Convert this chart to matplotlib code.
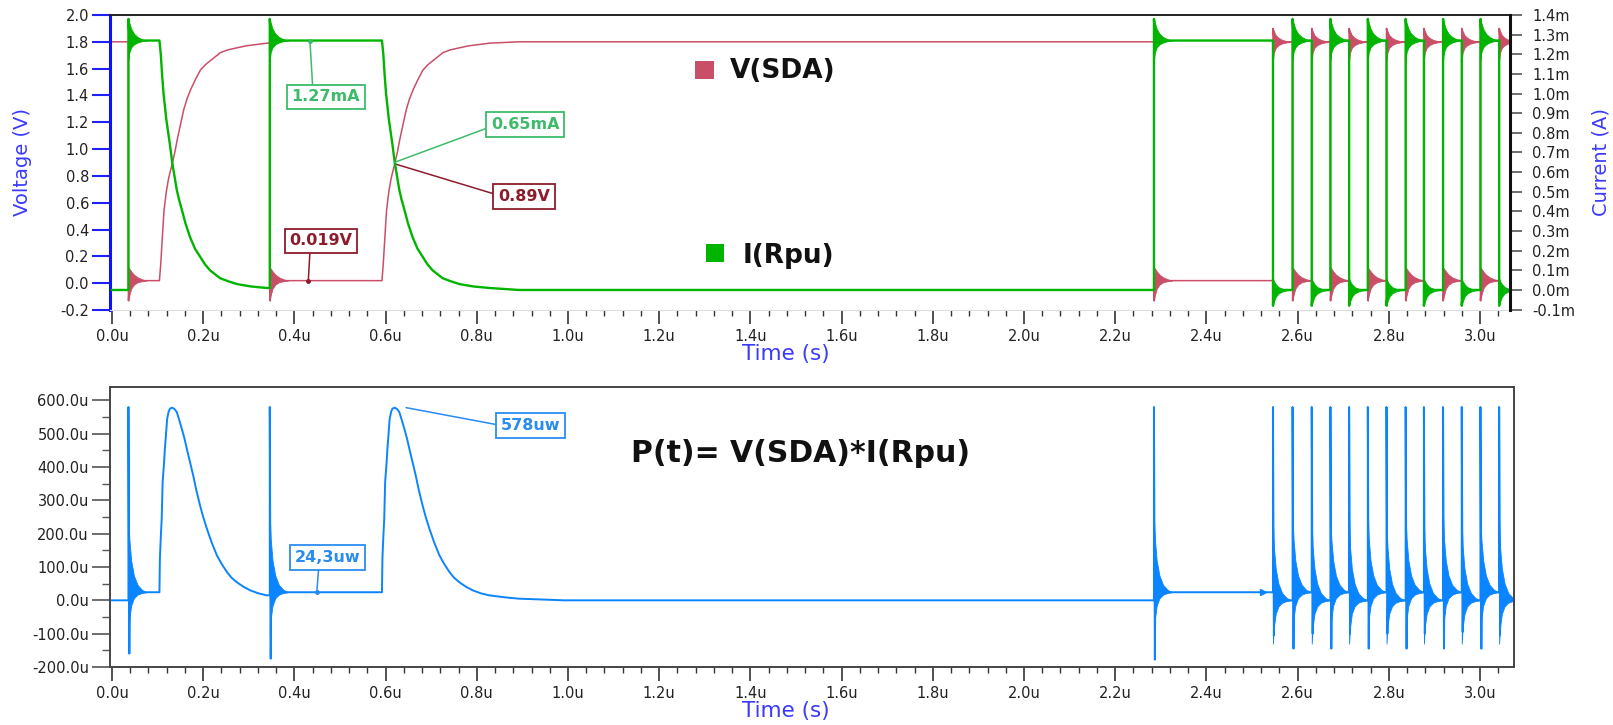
import numpy as np
import matplotlib.pyplot as plt
from matplotlib.patches import Rectangle
from matplotlib.ticker import MultipleLocator, FuncFormatter

W, H = 1613, 725

# values (time in us, V in volt, I in mA, P in uW)
V_HIGH, V_LOW = 1.80, 0.019
I_HIGH, I_LOW = 1.27, 0.0
P_ON = 24.3
T_END = 3.075

t_fall = [0.036, 0.346, 2.285]          # SDA pulled low
t_release = [0.104, 0.592]              # SDA released -> slow rise through Rpu
t_burst = [2.546, 2.589, 2.631, 2.672, 2.713, 2.754, 2.795,
           2.837, 2.877, 2.919, 2.960, 3.001, 3.042]   # fast edges, first one rising
t_glitch = 2.524

# slow rise after release (offset from release, us)
v_rc_dt = [0, 0.003, 0.006, 0.010, 0.015, 0.020, 0.028, 0.034, 0.039, 0.046, 0.053, 0.060,
           0.068, 0.079, 0.090, 0.101, 0.112, 0.123, 0.134, 0.150, 0.163, 0.190, 0.236, 0.30]
v_rc = [0.019, 0.15, 0.32, 0.54, 0.68, 0.78, 0.89, 0.98, 1.07, 1.18, 1.29, 1.37,
        1.44, 1.52, 1.59, 1.63, 1.66, 1.69, 1.72, 1.74, 1.75, 1.77, 1.79, 1.80]
i_rc_dt = [0, 0.003, 0.006, 0.009, 0.015, 0.023, 0.028, 0.033, 0.038, 0.043, 0.049, 0.057,
           0.067, 0.078, 0.089, 0.100, 0.111, 0.122, 0.133, 0.150, 0.170, 0.200, 0.236, 0.30]
i_rc = [1.27, 1.20, 1.09, 1.00, 0.87, 0.74, 0.65, 0.58, 0.51, 0.46, 0.41, 0.34,
        0.27, 0.21, 0.17, 0.13, 0.10, 0.08, 0.06, 0.045, 0.03, 0.018, 0.01, 0.0]
p_rc_dt = [0, 0.001, 0.003, 0.005, 0.007, 0.010, 0.012, 0.015, 0.017, 0.020, 0.023, 0.028,
           0.033, 0.038, 0.043, 0.049, 0.055, 0.060, 0.067, 0.074, 0.081, 0.089, 0.096,
           0.104, 0.115, 0.126, 0.137, 0.148, 0.158, 0.169, 0.184, 0.199, 0.217, 0.235,
           0.27, 0.30, 0.40]
p_rc = [24.3, 125, 190, 245, 355, 410, 455, 510, 545, 565, 575, 578,
        574, 565, 543, 515, 485, 455, 415, 375, 330, 285, 250,
        215, 172, 135, 108, 85, 68, 55, 41, 30, 21, 15,
        9, 5, 0]

# spike extremes at the fast edges
v_spike = {'fall': -0.13, 'rise': 1.90}
i_spike = {'fall': 1.38, 'rise': -0.08}
p_spike_hi = 580
p_spike_lo = [-160, -175, -178, -105, -145, -100, -145, -100, -145, -100,
              -145, -100, -145, -95, -145, -105]

# ringing envelope after a fast edge (deviation from the settled level)
ring_dt = [0, 0.002, 0.006, 0.012, 0.020, 0.030, 0.040]
v_ring = {'fall': ([0.10, 0.09, 0.07, 0.045, 0.025, 0.01, 0], [-0.15, -0.11, -0.06, -0.03, -0.012, -0.004, 0]),
          'rise': ([0.10, 0.08, 0.05, 0.03, 0.015, 0.005, 0], [-0.14, -0.08, -0.045, -0.025, -0.012, -0.004, 0])}
i_ring = {'fall': ([0.11, 0.09, 0.06, 0.035, 0.018, 0.006, 0], [-0.10, -0.06, -0.035, -0.02, -0.01, -0.003, 0]),
          'rise': ([0.06, 0.045, 0.03, 0.015, 0.007, 0.002, 0], [-0.08, -0.06, -0.035, -0.018, -0.008, -0.002, 0])}
p_ring = ([230, 160, 95, 50, 22, 7, 0], [-130, -80, -40, -18, -7, -2, 0])

RED = '#c94f68'
GREEN = '#00b400'
BLUE = '#0a84ff'
ANN_GREEN = '#3dbb6a'
ANN_RED = '#8c1c2c'
ANN_BLUE = '#2a8cf0'
LBL_BLUE = '#3a3aff'
TXT = '#222222'
PX = 0.72   # points per pixel at dpi 100

events = sorted([(t, 'fall') for t in t_fall] + [(t, 'rc') for t in t_release] +
                [(t, 'rise' if k % 2 == 0 else 'fall') for k, t in enumerate(t_burst)])
fast = [(t, k) for t, k in events if k != 'rc']


def build(start, settled, spike_pts, rc_dt, rc_val):
    t, y = [0.0], [start]
    n = 0
    for k, (te, kind) in enumerate(events):
        t_next = events[k + 1][0] if k + 1 < len(events) else T_END
        t.append(te)
        y.append(y[-1])
        if kind == 'rc':
            for d, v in zip(rc_dt, rc_val):
                if te + d < t_next:
                    t.append(te + d)
                    y.append(v)
        else:
            for d, v in spike_pts(kind, n):
                t.append(te + d)
                y.append(v)
            t.append(te + 0.003)
            y.append(settled[kind])
            n += 1
        t.append(t_next)
        y.append(y[-1])
    return np.array(t), np.array(y)


v_set = {'fall': V_LOW, 'rise': V_HIGH}
i_set = {'fall': I_HIGH, 'rise': I_LOW}
p_set = {'fall': P_ON, 'rise': 0.0}

tv, vv = build(V_HIGH, v_set, lambda k, n: [(0, v_spike[k])], v_rc_dt, v_rc)
ti, ii = build(I_LOW, i_set, lambda k, n: [(0, i_spike[k])], i_rc_dt, i_rc)
tp, pp = build(0.0, p_set, lambda k, n: [(0, p_spike_hi), (0.002, p_spike_lo[n])], p_rc_dt, p_rc)

fig = plt.figure(figsize=(W / 100, H / 100), dpi=100)
ax_v = fig.add_axes([110 / W, 1 - 310 / H, 1400 / W, 295 / H])
ax_i = ax_v.twinx()
ax_p = fig.add_axes([110 / W, 1 - 667 / H, 1404 / W, 280 / H])

rd = np.array(ring_dt)
# top: voltage and current
ax_v.plot(tv, vv, color=RED, lw=1.1)
ax_i.plot(ti, ii, color=GREEN, lw=1.7)
for te, kind in fast:
    up, dn = v_ring[kind]
    ax_v.fill_between(te + rd, v_set[kind] + np.array(up), v_set[kind] + np.array(dn),
                      color=RED, lw=0.6)
    up, dn = i_ring[kind]
    ax_i.fill_between(te + rd, i_set[kind] + np.array(up), i_set[kind] + np.array(dn),
                      color=GREEN, lw=0.6)
    ax_p.fill_between(te + rd, p_set[kind] + np.array(p_ring[0]), p_set[kind] + np.array(p_ring[1]),
                      color=BLUE, lw=0.6)
ax_p.plot(tp, pp, color=BLUE, lw=1.4)
ax_p.plot([t_glitch], [P_ON], marker='>', ms=5, color=BLUE)

fmt_u = FuncFormatter(lambda v, _: f"{v:.1f}u".replace('-0.0', '0.0'))
for ax in (ax_v, ax_p):
    ax.xaxis.set_major_locator(MultipleLocator(0.2))
    ax.xaxis.set_minor_locator(MultipleLocator(0.04))
    ax.xaxis.set_major_formatter(fmt_u)
    ax.tick_params(axis='x', which='major', length=14 * PX, width=1.2, color='#333333',
                   labelsize=10.5, labelcolor=TXT, pad=5 * PX)
    ax.tick_params(axis='x', which='minor', length=6 * PX, width=1.0, color='#333333')
    ax.set_xlabel('Time (s)', color=LBL_BLUE, fontsize=15.5, labelpad=0)

ax_v.xaxis.label.set_x((786 - 110) / 1400)
ax_p.xaxis.label.set_x((786 - 110) / 1404)

ax_v.set_xlim(-0.0044, 3.0658)
ax_p.set_xlim(-0.0044, 3.0746)

ax_v.set_ylim(-0.2, 2.0)
ax_v.yaxis.set_major_locator(MultipleLocator(0.2))
ax_v.yaxis.set_major_formatter(FuncFormatter(lambda v, _: f"{v:.1f}".replace('-0.0', '0.0')))
ax_v.tick_params(axis='y', length=18 * PX, width=1.5, color='#2020ff', labelsize=10.5,
                 labelcolor=TXT, pad=3 * PX)
ax_v.set_ylabel('Voltage (V)', color=LBL_BLUE, fontsize=14, labelpad=20)

ax_i.set_ylim(-0.102, 1.4)
ax_i.yaxis.set_major_locator(MultipleLocator(0.1))
ax_i.yaxis.set_major_formatter(FuncFormatter(lambda v, _: f"{v:.1f}m".replace('-0.0', '0.0')))
ax_i.tick_params(axis='y', length=12 * PX, width=1.2, color='#555555', labelsize=10.5,
                 labelcolor=TXT, pad=10 * PX)
ax_i.set_ylabel('Current (A)', color=LBL_BLUE, fontsize=14, labelpad=12)

ax_p.set_ylim(-200, 640)
ax_p.yaxis.set_major_locator(MultipleLocator(100))
ax_p.yaxis.set_minor_locator(MultipleLocator(50))
ax_p.yaxis.set_major_formatter(fmt_u)
ax_p.tick_params(axis='y', which='major', length=18 * PX, width=1.2, color='#555555',
                 labelsize=10.5, labelcolor=TXT, pad=3 * PX)
ax_p.tick_params(axis='y', which='minor', length=8 * PX, width=1.0, color='#555555')

# frames
ax_v.spines['left'].set_color('#1010ff')
ax_v.spines['left'].set_linewidth(2.2)
ax_v.spines['top'].set_color('#222222')
ax_v.spines['top'].set_linewidth(1.4)
ax_v.spines['bottom'].set_color('#dddddd')
for s in ('left', 'top', 'bottom'):
    ax_i.spines[s].set_visible(False)
ax_i.spines['right'].set_color('#111111')
ax_i.spines['right'].set_linewidth(2.2)
ax_v.spines['right'].set_visible(False)
for s in ax_p.spines.values():
    s.set_color('#444444')
    s.set_linewidth(1.4)


def ann(ax, text, xy, xytext, color, rel, dot=True):
    ax.annotate(text, xy=xy, xytext=xytext, textcoords='data', ha='center', va='center',
                fontsize=11.5, fontweight='bold', color=color,
                bbox=dict(boxstyle='square,pad=0.3', fc='white', ec=color, lw=1.3),
                arrowprops=dict(arrowstyle='-', color=color, lw=1.1, relpos=rel,
                                shrinkA=0, shrinkB=0))
    if dot:
        ax.plot([xy[0]], [xy[1]], 'o', ms=2.5, color=color)


ann(ax_i, '1.27mA', (0.434, 1.27), (0.469, 0.983), ANN_GREEN, (0.31, 1.0))
ann(ax_v, '0.019V', (0.4305, 0.019), (0.458, 0.315), ANN_RED, (0.33, 0.0))
ann(ax_i, '0.65mA', (0.62, 0.65), (0.906, 0.843), ANN_GREEN, (0.02, 0.38), dot=False)
ann(ax_v, '0.89V', (0.62, 0.89), (0.904, 0.645), ANN_RED, (0.02, 0.58), dot=False)
ann(ax_p, '578uw', (0.645, 578), (0.917, 525), ANN_BLUE, (0.0, 0.5), dot=False)
ann(ax_p, '24,3uw', (0.449, P_ON), (0.4726, 129), ANN_BLUE, (0.37, 0.0))

# legend squares and titles
fig.add_artist(Rectangle((695 / W, 1 - 79 / H), 19 / W, 18 / H, transform=fig.transFigure,
                         color=RED, lw=0))
fig.text(730 / W, 1 - 71 / H, 'V(SDA)', fontsize=19, fontweight='bold', va='center', color='#111111')
fig.add_artist(Rectangle((706 / W, 1 - 262 / H), 18 / W, 18 / H, transform=fig.transFigure,
                         color=GREEN, lw=0))
fig.text(743 / W, 1 - 256 / H, 'I(Rpu)', fontsize=19, fontweight='bold', va='center', color='#111111')
fig.text(801 / W, 1 - 453 / H, 'P(t)= V(SDA)*I(Rpu)', fontsize=21.5, fontweight='bold',
         ha='center', va='center', color='#111111')

fig.savefig('out.png', dpi=100)
